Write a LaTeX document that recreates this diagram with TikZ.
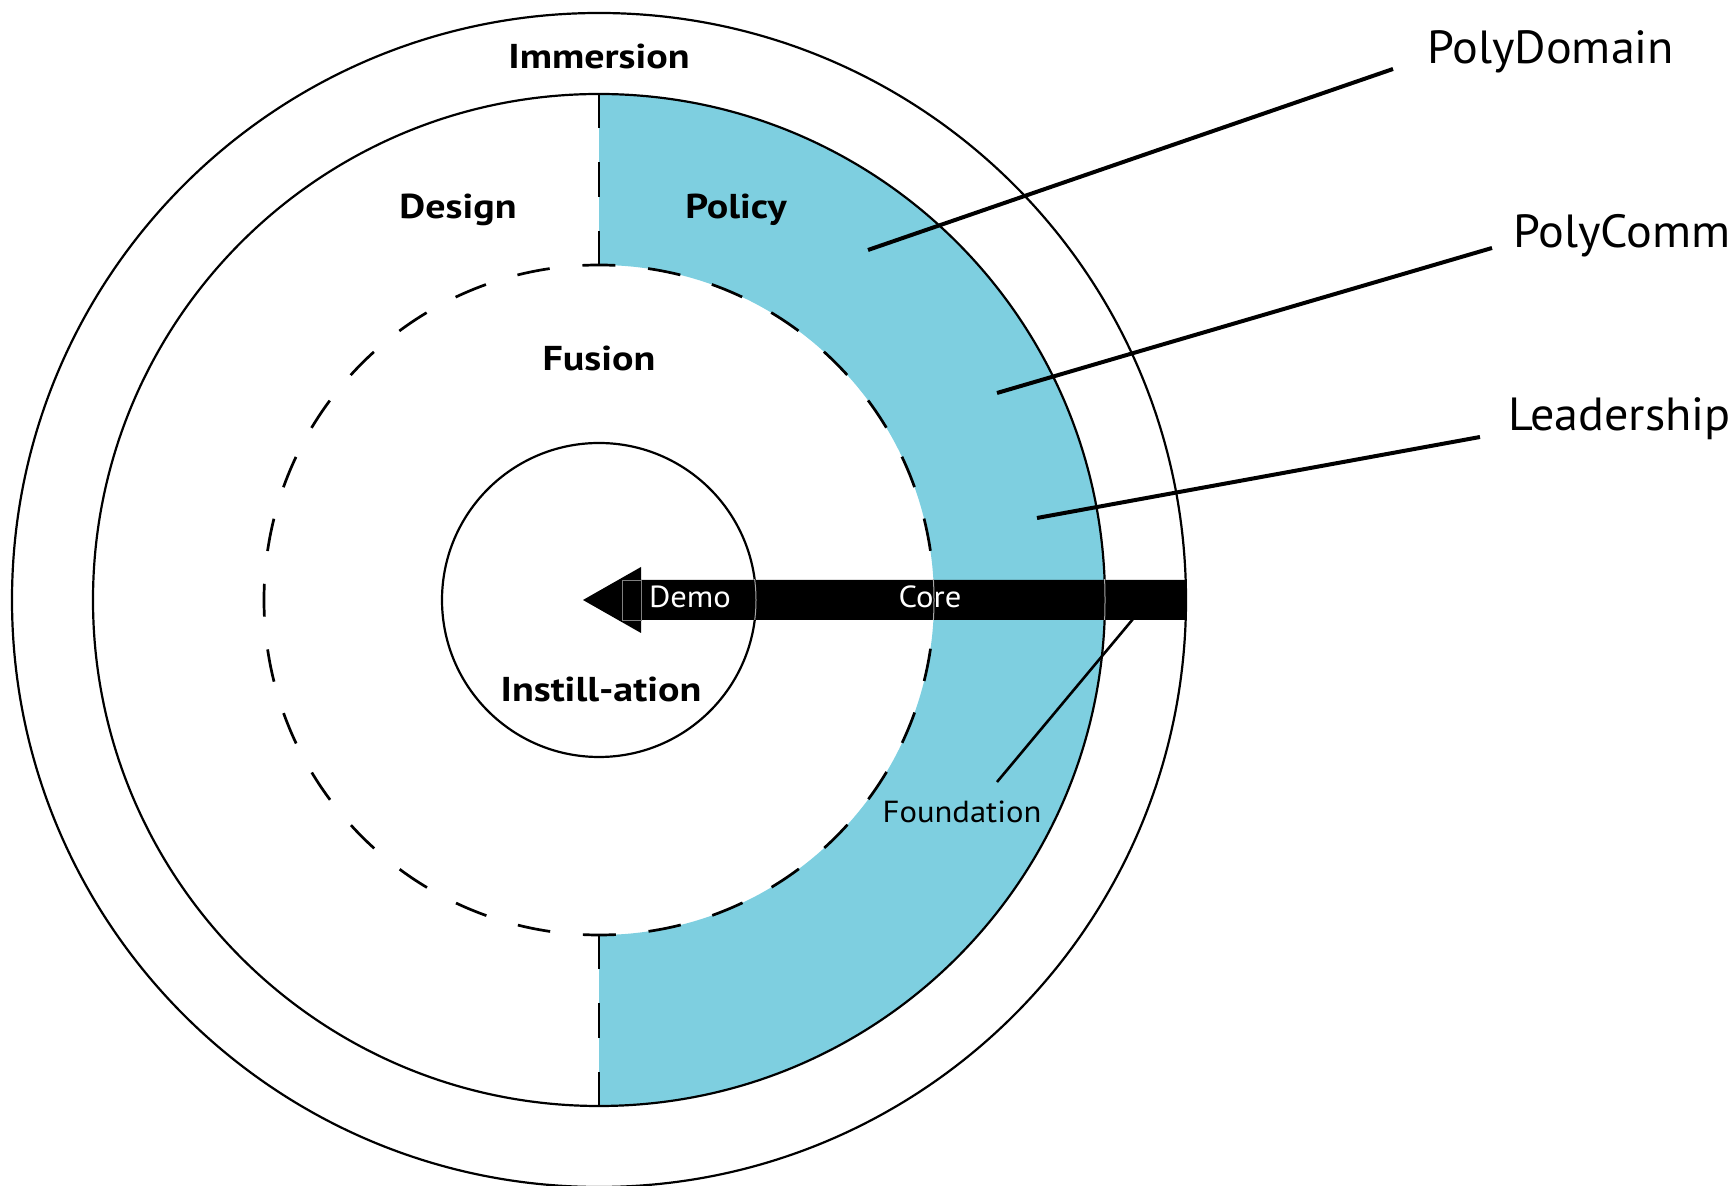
\documentclass[tikz,border=0pt]{standalone}
\usepackage{fontspec}
\setmainfont{PT Sans}
\newfontfamily\labbold{PT Sans}[FakeStretch=1.16]
\newfontfamily\labbig{PT Sans}[FakeStretch=1.035]
\newfontfamily\labsmall{PT Sans}[FakeStretch=1.07]
\usetikzlibrary{calc}
\definecolor{ringblue}{RGB}{126,207,224}
\begin{document}
\begin{tikzpicture}[x=1pt,y=1pt,
  ring/.style={line width=2.2pt},
  dashring/.style={line width=2.7pt, dash pattern=on 32.9pt off 32.9pt, dash phase=16.45pt},
  vdash/.style={line width=2.7pt, dash pattern=on 34.2pt off 34.2pt},
  leader/.style={line width=4pt},
  thinleader/.style={line width=2.6pt},
  boldlab/.style={font=\labbold\fontsize{34.5}{40}\selectfont\bfseries, inner sep=0pt, anchor=base},
  biglab/.style={font=\labbig\fontsize{46.5}{52}\selectfont, inner sep=0pt, anchor=base west},
  smalllab/.style={font=\labsmall\fontsize{30.5}{36}\selectfont, inner sep=0pt, anchor=base}]
\useasboundingbox (0,0) rectangle (1733,1186);
\coordinate (c) at (599,586);
% blue half annulus
\fill[ringblue] ($(c)+(0,506)$) arc[start angle=90,end angle=-90,radius=506]
  -- ($(c)+(0,-335)$) arc[start angle=-90,end angle=90,radius=335] -- cycle;
% rings
\draw[ring] (c) circle[radius=587];
\draw[ring] (c) circle[radius=506];
\draw[ring] (c) circle[radius=157];
\draw[dashring] (c) circle[radius=335];
% vertical dashed separators
\coordinate (ttop) at ($(c)+(0,506)$);
\coordinate (tbot) at ($(c)+(0,335)$);
\coordinate (btop) at ($(c)+(0,-335)$);
\coordinate (bbot) at ($(c)+(0,-506)$);
\draw[vdash] (ttop) -- (tbot);
\draw[vdash] (bbot) -- (btop);
% arrow
\fill[black] (583,586) -- (641,619) -- (641,606) -- (1186,606) -- (1186,566)
  -- (641,566) -- (641,553) -- cycle;
\draw[gray, line width=0.8pt] (622,566) rectangle (641,606);
\begin{scope}
  \clip (641,566) rectangle (1186,606);
  \draw[gray!70, line width=1pt] (c) circle[radius=157] (c) circle[radius=335] (c) circle[radius=506];
\end{scope}
% labels
\node[boldlab] (immersion) at (599,1117) {Immersion};
\node[boldlab] (design) at (458,967) {Design};
\node[boldlab] (policy) at (736,967) {Policy};
\node[boldlab] (fusion) at (599,815) {Fusion};
\node[boldlab] (instill) at (601,484) {Instill-ation};
\node[smalllab, text=white] (demo) at (690,578) {Demo};
\node[smalllab, text=white] (core) at (930,578) {Core};
\node[smalllab] (foundation) at (962,363) {Foundation};
\node[biglab] (polydomain) at (1427,1122) {PolyDomain};
\node[biglab] (polycomm) at (1513,938) {PolyComm};
\node[biglab] (leadership) at (1508,755) {Leadership};
% leader lines
\coordinate (pd1) at (868,936);   \coordinate (pd2) at (1393,1117);
\coordinate (pc1) at (997,793);   \coordinate (pc2) at (1492,938);
\coordinate (ld1) at (1037,668);  \coordinate (ld2) at (1480,749);
\coordinate (fd1) at (1133,567);  \coordinate (fd2) at (997,404);
\draw[leader] (pd1) -- (pd2);
\draw[leader] (pc1) -- (pc2);
\draw[leader] (ld1) -- (ld2);
\draw[thinleader] (fd1) -- (fd2);
\end{tikzpicture}
\end{document}
